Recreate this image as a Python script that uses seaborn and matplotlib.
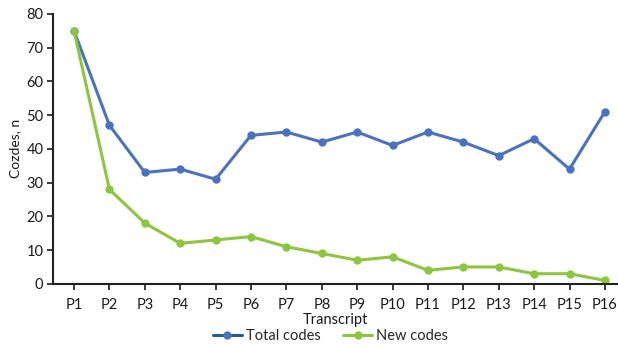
import matplotlib
matplotlib.use('Agg')
import matplotlib.pyplot as plt
import seaborn as sns
import pandas as pd

transcripts = ['P%d' % i for i in range(1, 17)]
total_codes = [75, 47, 33, 34, 31, 44, 45, 42, 45, 41, 45, 42, 38, 43, 34, 51]
new_codes = [75, 28, 18, 12, 13, 14, 11, 9, 7, 8, 4, 5, 5, 3, 3, 1]

BLUE = '#4a72bf'
GREEN = '#8cc63e'


def main():
    sns.set_style('white')
    plt.rcParams['font.family'] = ['Lato', 'DejaVu Sans']

    rows = []
    for i, t in enumerate(transcripts):
        rows.append([t, i, total_codes[i], 'Total codes'])
        rows.append([t, i, new_codes[i], 'New codes'])
    df = pd.DataFrame.from_records(rows, columns=['Transcript', 'idx', 'Codes', 'Series'])

    fig = plt.figure(figsize=(6.18, 3.47), dpi=100)
    ax = fig.add_axes([0.086, 0.182, 0.914, 0.778])

    sns.lineplot(data=df, x='idx', y='Codes', hue='Series',
                 palette={'Total codes': BLUE, 'New codes': GREEN},
                 marker='o', markersize=6, markeredgewidth=0,
                 linewidth=2.2, ax=ax, legend=False)

    fs = 10.5
    ax.set_xticks(range(len(transcripts)))
    ax.set_xticklabels(transcripts)
    ax.set_xlim(-0.59, 15.37)
    ax.set_ylim(0, 80)
    ax.set_yticks(range(0, 81, 10))
    ax.tick_params(axis='both', labelsize=fs, colors='#1a1a1a', length=4,
                   width=1.2, direction='out', bottom=True, left=True)
    ax.tick_params(axis='x', pad=6)
    ax.tick_params(axis='y', pad=3)
    ax.set_xlabel('Transcript', fontsize=fs, labelpad=1, color='#1a1a1a')
    ax.set_ylabel('Cozdes, n', fontsize=fs - 0.5, color='#1a1a1a', labelpad=4)

    sns.despine(ax=ax)
    for s in ['left', 'bottom']:
        ax.spines[s].set_linewidth(1.5)
        ax.spines[s].set_color('#222222')

    handles = [
        plt.Line2D([], [], color='#1f5f8f', lw=2.2, marker='o', markersize=6,
                   markerfacecolor=BLUE, markeredgewidth=0),
        plt.Line2D([], [], color=GREEN, lw=2.2, marker='o', markersize=6,
                   markerfacecolor=GREEN, markeredgewidth=0),
    ]
    fig.legend(handles, ['Total codes', 'New codes'], loc='center',
               bbox_to_anchor=(0.535, 0.032), ncol=2, frameon=False,
               fontsize=fs, handlelength=2.0, handletextpad=0.3,
               columnspacing=1.5, borderaxespad=0)

    fig.savefig('out.png', dpi=100)


if __name__ == '__main__':
    main()
